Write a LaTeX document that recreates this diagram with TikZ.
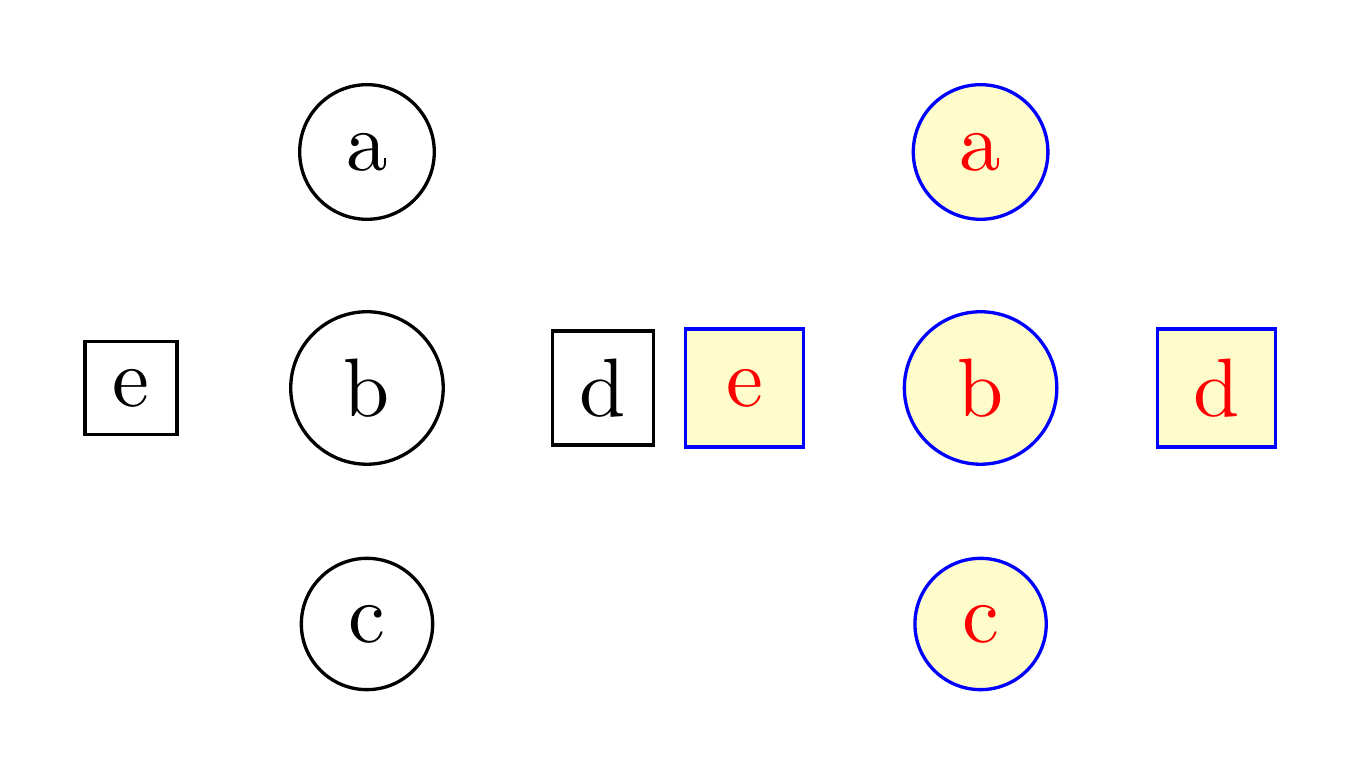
\documentclass[tikz,border=0pt]{standalone}
\begin{document}
\begin{tikzpicture}[
  plaincircle/.style={draw,circle},
  plainbox/.style={draw,rectangle},
  fancycircle/.style={draw=blue,fill=yellow!20,text=red,circle,minimum size=5mm},
  fancybox/.style={draw=blue,fill=yellow!20,text=red,rectangle,minimum size=5mm}
]
\useasboundingbox (-1.555,-1.64) rectangle (4.212,1.644);
% left group
\node[plaincircle] (la) at (0,1) {a};
\node[plaincircle] (lb) at (0,0) {b};
\node[plaincircle] (lc) at (0,-1) {c};
\node[plainbox] (ld) at (1,0) {d};
\node[plainbox] (le) at (-1,0) {e};
% right group
\begin{scope}[xshift=2.6cm]
\node[fancycircle] (ra) at (0,1) {a};
\node[fancycircle] (rb) at (0,0) {b};
\node[fancycircle] (rc) at (0,-1) {c};
\node[fancybox] (rd) at (1,0) {d};
\node[fancybox] (re) at (-1,0) {e};
\end{scope}
\end{tikzpicture}
\end{document}
